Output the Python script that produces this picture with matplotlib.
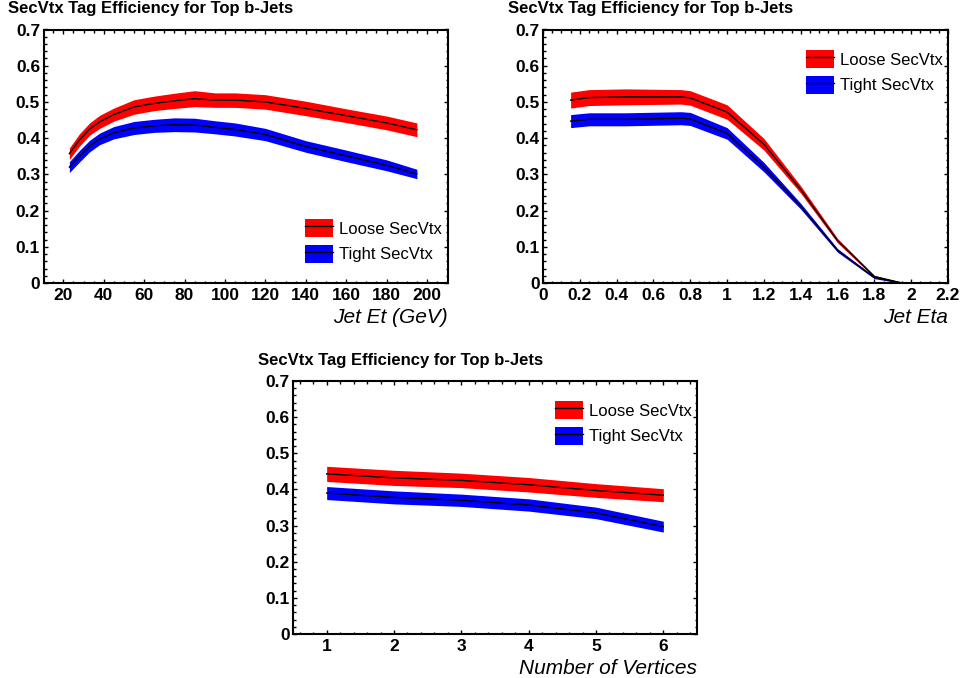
import matplotlib
matplotlib.use("Agg")
import matplotlib.pyplot as plt
from matplotlib.patches import Patch
from matplotlib.lines import Line2D
from matplotlib.ticker import MultipleLocator, FormatStrFormatter

plt.rcParams['font.family'] = ['Liberation Sans', 'DejaVu Sans']

title = "SecVtx Tag Efficiency for Top b-Jets"
labels = ["Loose SecVtx", "Tight SecVtx"]

# efficiency vs jet Et
et = [23, 28, 33, 38, 45, 55, 65, 75, 85, 95, 105, 120, 140, 160, 180, 195]
loose_et = [0.357, 0.395, 0.425, 0.445, 0.465, 0.486, 0.496, 0.503, 0.509, 0.505, 0.505, 0.500, 0.482, 0.462, 0.442, 0.423]
loose_et_err = [0.016, 0.017, 0.017, 0.018, 0.018, 0.020, 0.020, 0.021, 0.022, 0.020, 0.020, 0.020, 0.020, 0.019, 0.019, 0.019]
tight_et = [0.320, 0.350, 0.378, 0.398, 0.415, 0.428, 0.434, 0.437, 0.436, 0.430, 0.424, 0.410, 0.377, 0.351, 0.325, 0.301]
tight_et_err = [0.015, 0.016, 0.016, 0.016, 0.017, 0.018, 0.018, 0.019, 0.019, 0.018, 0.018, 0.017, 0.016, 0.016, 0.015, 0.013]

# efficiency vs jet eta
eta = [0.15, 0.25, 0.45, 0.75, 0.8, 1.0, 1.2, 1.4, 1.6, 1.8, 1.95]
loose_eta = [0.505, 0.512, 0.514, 0.514, 0.511, 0.472, 0.383, 0.258, 0.117, 0.018, 0.0]
loose_eta_err = [0.022, 0.022, 0.022, 0.020, 0.020, 0.020, 0.016, 0.010, 0.006, 0.003, 0.001]
tight_eta = [0.447, 0.452, 0.452, 0.455, 0.453, 0.413, 0.320, 0.212, 0.090, 0.015, 0.0]
tight_eta_err = [0.018, 0.018, 0.018, 0.018, 0.018, 0.016, 0.013, 0.008, 0.005, 0.003, 0.001]

# efficiency vs number of vertices
nvtx = [1, 2, 3, 4, 5, 6]
loose_nv = [0.443, 0.432, 0.425, 0.413, 0.397, 0.384]
loose_nv_err = [0.021, 0.021, 0.020, 0.020, 0.019, 0.018]
tight_nv = [0.390, 0.378, 0.370, 0.357, 0.335, 0.297]
tight_nv_err = [0.018, 0.018, 0.017, 0.017, 0.016, 0.015]

W, H = 962, 678
fig = plt.figure(figsize=(W / 100, H / 100), dpi=100)


def px_axes(x0, y0, x1, y1):
    return fig.add_axes([x0 / W, 1 - y1 / H, (x1 - x0) / W, (y1 - y0) / H])


def band(ax, x, y, err, color):
    lo = [v - e for v, e in zip(y, err)]
    hi = [v + e for v, e in zip(y, err)]
    ax.fill_between(x, lo, hi, color=color, lw=0)
    ax.plot(x, y, color='black', lw=1)


def style(ax, xlim, xmaj, xmin, xlabel, legpos):
    ax.set_xlim(*xlim)
    ax.set_ylim(0, 0.7)
    ax.xaxis.set_major_locator(MultipleLocator(xmaj))
    ax.xaxis.set_minor_locator(MultipleLocator(xmin))
    ax.yaxis.set_major_locator(MultipleLocator(0.1))
    ax.yaxis.set_minor_locator(MultipleLocator(0.02))
    ax.xaxis.set_major_formatter(FormatStrFormatter('%g'))
    ax.yaxis.set_major_formatter(FormatStrFormatter('%g'))
    ax.tick_params(which='both', direction='in', top=True, right=True, width=1)
    ax.tick_params(which='major', length=3)
    ax.tick_params(which='minor', length=1.8)
    ax.tick_params(axis='y', pad=2.5)
    ax.tick_params(axis='x', pad=3.5)
    for lab in ax.get_xticklabels() + ax.get_yticklabels():
        lab.set_fontweight('bold')
        lab.set_fontsize(12.5)
    for sp in ax.spines.values():
        sp.set_linewidth(1.5)
    ax.set_xlabel(xlabel, fontsize=15, style='italic', loc='right', labelpad=4)
    handles = [(Patch(color='red', lw=0), Line2D([], [], color='black', lw=1)),
               (Patch(color='blue', lw=0), Line2D([], [], color='black', lw=1))]
    ax.legend(handles, labels, loc='upper left', bbox_to_anchor=legpos, frameon=False,
              fontsize=12, handlelength=1.7, handleheight=1.3, handletextpad=0.35,
              labelspacing=0.45, borderpad=0, borderaxespad=0)


ax1 = px_axes(43.5, 29.5, 448, 283)
band(ax1, et, loose_et, loose_et_err, 'red')
band(ax1, et, tight_et, tight_et_err, 'blue')
style(ax1, (10.2, 210.4), 20, 5, "Jet Et (GeV)", ((305 - 43.5) / 404.5, 1 - (219 - 29.5) / 253.5))

ax2 = px_axes(543, 29.5, 948, 283)
band(ax2, eta, loose_eta, loose_eta_err, 'red')
band(ax2, eta, tight_eta, tight_eta_err, 'blue')
style(ax2, (0, 2.2), 0.2, 0.05, "Jet Eta", ((806 - 543) / 405, 1 - (50 - 29.5) / 253.5))

ax3 = px_axes(293, 381, 697, 634)
band(ax3, nvtx, loose_nv, loose_nv_err, 'red')
band(ax3, nvtx, tight_nv, tight_nv_err, 'blue')
style(ax3, (0.5, 6.5), 1, 0.2, "Number of Vertices", ((555 - 293) / 404, 1 - (401 - 381) / 253))

for x, y in [(8, 9), (508, 9), (258, 360)]:
    fig.text(x / W, 1 - y / H, title, fontsize=12, fontweight='bold', ha='left', va='center')

fig.savefig("out.png", dpi=100)
